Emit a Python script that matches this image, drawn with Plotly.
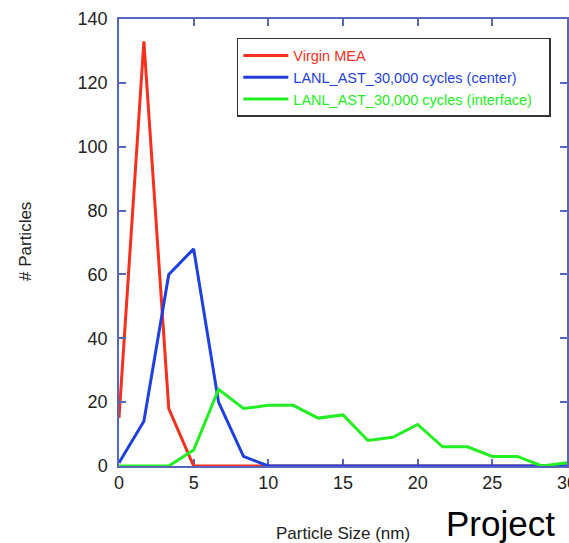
import plotly.graph_objects as go

# Particle size bins (nm)
sizes = [0, 1.667, 3.333, 5, 6.667, 8.333, 10, 11.667, 13.333, 15,
         16.667, 18.333, 20, 21.667, 23.333, 25, 26.667, 28.333, 30]

virgin = [15, 133, 18, 0, 0, 0, 0, 0, 0, 0, 0, 0, 0, 0, 0, 0, 0, 0, 0]
center = [1, 14, 60, 68, 20, 3, 0, 0, 0, 0, 0, 0, 0, 0, 0, 0, 0, 0, 0]
interface = [0, 0, 0, 5, 24, 18, 19, 19, 15, 16, 8, 9, 13, 6, 6, 3, 3, 0, 1]

names = ["Virgin MEA",
         "LANL_AST_30,000 cycles (center)",
         "LANL_AST_30,000 cycles (interface)\u00a0\u00a0\u00a0"]
colors = ["#f5301c", "#1f3fe0", "#22ee22"]

x_ticks = [0, 5, 10, 15, 20, 25, 30]
y_ticks = [0, 20, 40, 60, 80, 100, 120, 140]

FONT = "Liberation Sans, Arial, Helvetica, sans-serif"
AXC = "#5566bb"

fig = go.Figure()
for name, vals, col in zip(names, [virgin, center, interface], colors):
    fig.add_trace(go.Scatter(
        x=sizes, y=vals, mode="lines",
        name=f'<span style="color:{col}">{name}</span>',
        line=dict(color=col, width=3),
    ))

axis_common = dict(
    showline=True, linecolor=AXC, linewidth=1.5, mirror="ticks",
    ticks="inside", ticklen=7, tickwidth=1.5, tickcolor=AXC,
    showgrid=False, zeroline=False, automargin=False,
    tickfont=dict(family=FONT, size=18, color="#222"),
    ticklabeloverflow="allow",
)

fig.update_xaxes(range=[0, 30], tickvals=x_ticks, layer="below traces", **axis_common)
fig.update_yaxes(range=[0, 140], tickvals=y_ticks, ticklabelstandoff=6, **axis_common)

fig.update_layout(
    width=569, height=543,
    margin=dict(l=119, r=2, t=19, b=77, autoexpand=False),
    paper_bgcolor="white", plot_bgcolor="white",
    font=dict(family=FONT, color="#222"),
    showlegend=True,
    legend=dict(
        x=0.263, y=0.9575, xanchor="left", yanchor="top",
        bgcolor="white", bordercolor="#333", borderwidth=1.5,
        font=dict(family=FONT, size=14.5),
        itemwidth=45,
        tracegroupgap=0,
    ),
    annotations=[
        dict(text="Particle Size (nm)", xref="paper", yref="paper",
             x=(343 - 119) / 448, y=(466 - 533) / 447,
             xanchor="center", yanchor="middle", showarrow=False,
             font=dict(family=FONT, size=17, color="#222")),
        dict(text="# Particles", xref="paper", yref="paper",
             x=(25 - 119) / 448, y=(466 - 242) / 447, textangle=-90,
             xanchor="center", yanchor="middle", showarrow=False,
             font=dict(family=FONT, size=17, color="#222")),
        dict(text="Project", xref="paper", yref="paper",
             x=(444 - 119) / 448, y=(466 - 523) / 447,
             xanchor="left", yanchor="middle", showarrow=False,
             font=dict(family=FONT, size=35, color="#000")),
    ],
)

fig.write_html("out.html")
